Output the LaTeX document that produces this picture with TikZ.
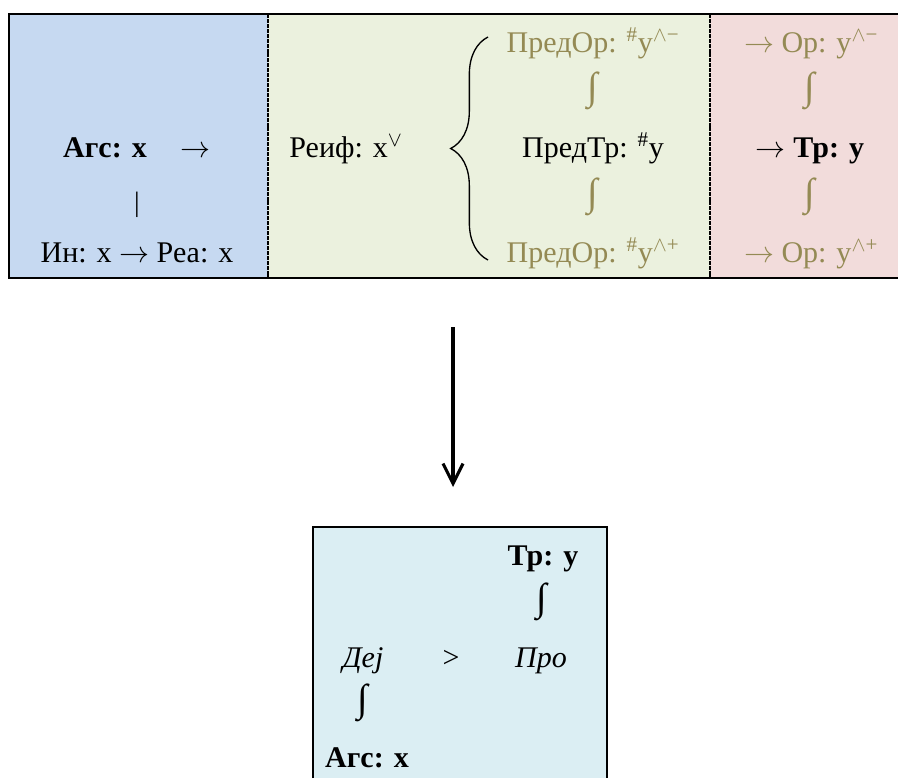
\documentclass[tikz,border=0pt]{standalone}
\usepackage{fix-cm}
\usepackage{amsmath, amssymb}
\usepackage{fontspec}
\setmainfont{Liberation Serif}
\usepackage{tikz}
\usetikzlibrary{arrows.meta, decorations.pathreplacing, positioning}
\usepackage{xcolor}
\definecolor{agsblue}{RGB}{198,217,241}
\definecolor{reifgreen}{RGB}{235,241,222}
\definecolor{trpink}{RGB}{242,220,219}
\definecolor{resblue}{RGB}{219,238,243}
\definecolor{orolive}{RGB}{148,138,84}
\newcommand{\ar}{$\rightarrow$}
\tikzset{
  txt/.style={font=\fontsize{22.5}{27}\selectfont, inner sep=0pt, anchor=base},
  dim/.style={txt, text=orolive},
  intg/.style={font=\fontsize{29}{32}\selectfont, inner sep=0pt},
  frame/.style={line width=1.8pt},
  sep/.style={line width=1pt, dash pattern=on 3pt off 0.7pt}
}

\begin{document}
\begin{tikzpicture}[x=0.75pt, y=-0.75pt]
\useasboundingbox (0,0) rectangle (898,778);
% top panels
\fill[agsblue] (9,14) rectangle (268,278);
\fill[reifgreen] (268,14) rectangle (710,278);
\fill[trpink] (710,14) rectangle (898,278);
\draw[frame] (9,14) -- (898,14);
\draw[frame] (9,278) -- (898,278);
\draw[frame] (9,13.1) -- (9,278.9);
\draw[sep] (268,14) -- (268,278);
\draw[sep] (710,14) -- (710,278);

\node[txt] (ags) at (105,157) {\textbf{Агс: x}};
\node[txt] (agsarr) at (195,157) {\ar};
\node[inner sep=0pt, font=\fontsize{21}{24}\selectfont] (bar) at (137,205) {|};
\node[txt] (inrea) at (137,262) {Ин: x \ar{} Реа: x};

\node[txt] (reif) at (346,157) {Реиф: x\textsuperscript{$\vee$}};
\draw[decorate, decoration={brace, amplitude=28pt}, line width=1pt] (488,260) -- (488,37);
\node[dim] (predor1) at (593,52) {ПредОр: \textsuperscript{\#}y\textsuperscript{$\wedge$−}};
\node[txt] (predtr) at (593,157) {ПредТр: \textsuperscript{\#}y};
\node[dim] (predor2) at (593,262) {ПредОр: \textsuperscript{\#}y\textsuperscript{$\wedge$+}};

\node[dim] (or1) at (811,52) {\ar{} Ор: y\textsuperscript{$\wedge$−}};
\node[txt] (tr) at (810,157) {\ar{} \textbf{Тр: y}};
\node[dim] (or2) at (811,262) {\ar{} Ор: y\textsuperscript{$\wedge$+}};

\foreach \x/\y in {593/91, 593/197, 810/91, 810/197}
  \node[intg, text=orolive] at (\x,\y) {∫};

% arrow down
\coordinate (atop) at (453,327);
\coordinate (abot) at (453,487);
\draw[line width=2.3pt, -{Straight Barb[length=15pt, width=15pt]}] (atop) -- (abot);

% result box
\fill[resblue] (313,527) rectangle (607,778);
\draw[line width=2pt] (313,778) -- (313,527) -- (607,527) -- (607,778);

\node[txt] (btr) at (543,565) {\textbf{Тр: y}};
\node[intg] (bint1) at (542,602) {∫};
\node[txt] (dej) at (363,667) {\textit{Деј}};
\node[txt] (gt) at (451,667) {>};
\node[txt] (pro) at (541,667) {\textit{Про}};
\node[intg] (bint2) at (363,703) {∫};
\node[txt] (bags) at (367,767) {\textbf{Агс: x}};
\end{tikzpicture}
\end{document}
